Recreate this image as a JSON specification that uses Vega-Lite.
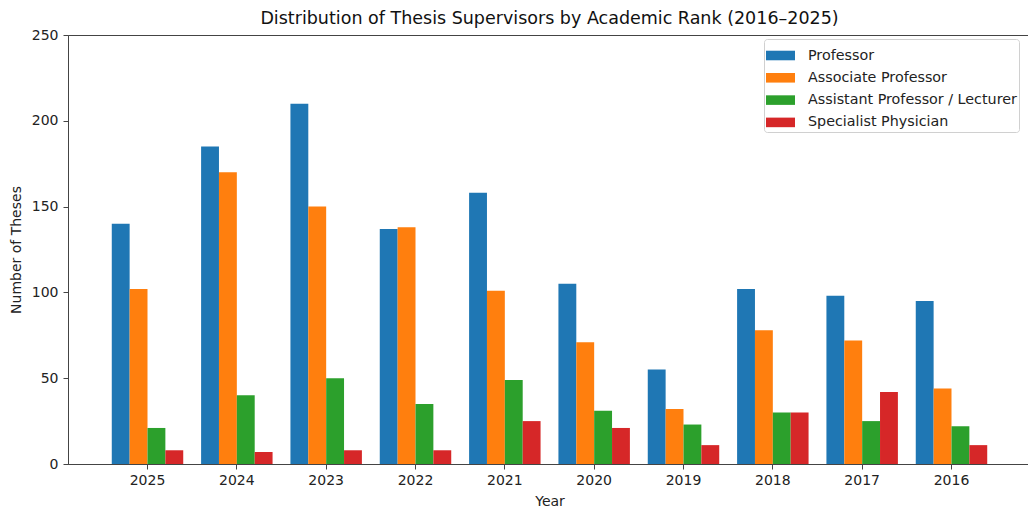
{
  "$schema": "https://vega.github.io/schema/vega-lite/v6.json",
  "autosize": {"type": "none"},
  "padding": {"left": 68, "top": 35, "right": 0, "bottom": 48},
  "width": 963,
  "height": 429,
  "title": {
    "text": "Distribution of Thesis Supervisors by Academic Rank (2016–2025)",
    "font": "DejaVu Sans",
    "fontSize": 17.5,
    "fontWeight": "normal",
    "color": "#111",
    "anchor": "middle",
    "offset": 1
  },
  "config": {
    "font": "DejaVu Sans",
    "view": {"stroke": "#444", "strokeWidth": 1}
  },
  "data": {
    "values": [
      {"year": "2025", "rank": "Professor", "count": 140},
      {"year": "2025", "rank": "Associate Professor", "count": 102},
      {"year": "2025", "rank": "Assistant Professor / Lecturer", "count": 21},
      {"year": "2025", "rank": "Specialist Physician", "count": 8},
      {"year": "2024", "rank": "Professor", "count": 185},
      {"year": "2024", "rank": "Associate Professor", "count": 170},
      {"year": "2024", "rank": "Assistant Professor / Lecturer", "count": 40},
      {"year": "2024", "rank": "Specialist Physician", "count": 7},
      {"year": "2023", "rank": "Professor", "count": 210},
      {"year": "2023", "rank": "Associate Professor", "count": 150},
      {"year": "2023", "rank": "Assistant Professor / Lecturer", "count": 50},
      {"year": "2023", "rank": "Specialist Physician", "count": 8},
      {"year": "2022", "rank": "Professor", "count": 137},
      {"year": "2022", "rank": "Associate Professor", "count": 138},
      {"year": "2022", "rank": "Assistant Professor / Lecturer", "count": 35},
      {"year": "2022", "rank": "Specialist Physician", "count": 8},
      {"year": "2021", "rank": "Professor", "count": 158},
      {"year": "2021", "rank": "Associate Professor", "count": 101},
      {"year": "2021", "rank": "Assistant Professor / Lecturer", "count": 49},
      {"year": "2021", "rank": "Specialist Physician", "count": 25},
      {"year": "2020", "rank": "Professor", "count": 105},
      {"year": "2020", "rank": "Associate Professor", "count": 71},
      {"year": "2020", "rank": "Assistant Professor / Lecturer", "count": 31},
      {"year": "2020", "rank": "Specialist Physician", "count": 21},
      {"year": "2019", "rank": "Professor", "count": 55},
      {"year": "2019", "rank": "Associate Professor", "count": 32},
      {"year": "2019", "rank": "Assistant Professor / Lecturer", "count": 23},
      {"year": "2019", "rank": "Specialist Physician", "count": 11},
      {"year": "2018", "rank": "Professor", "count": 102},
      {"year": "2018", "rank": "Associate Professor", "count": 78},
      {"year": "2018", "rank": "Assistant Professor / Lecturer", "count": 30},
      {"year": "2018", "rank": "Specialist Physician", "count": 30},
      {"year": "2017", "rank": "Professor", "count": 98},
      {"year": "2017", "rank": "Associate Professor", "count": 72},
      {"year": "2017", "rank": "Assistant Professor / Lecturer", "count": 25},
      {"year": "2017", "rank": "Specialist Physician", "count": 42},
      {"year": "2016", "rank": "Professor", "count": 95},
      {"year": "2016", "rank": "Associate Professor", "count": 44},
      {"year": "2016", "rank": "Assistant Professor / Lecturer", "count": 22},
      {"year": "2016", "rank": "Specialist Physician", "count": 11}
    ]
  },
  "mark": {"type": "bar"},
  "encoding": {
    "x": {
      "field": "year",
      "type": "nominal",
      "sort": ["2025", "2024", "2023", "2022", "2021", "2020", "2019", "2018", "2017", "2016"],
      "scale": {"paddingInner": 0.2, "paddingOuter": 0.49},
      "axis": {
        "title": "Year",
        "labelAngle": 0,
        "labelFontSize": 14,
        "labelColor": "#222",
        "titleFontSize": 14,
        "titleFontWeight": "normal",
        "titleColor": "#222",
        "titlePadding": 7,
        "labelPadding": 4,
        "tickSize": 5,
        "tickColor": "#444",
        "domainColor": "#444",
        "grid": false
      }
    },
    "xOffset": {
      "field": "rank",
      "type": "nominal",
      "sort": ["Professor", "Associate Professor", "Assistant Professor / Lecturer", "Specialist Physician"],
      "scale": {"paddingInner": 0, "paddingOuter": 0}
    },
    "y": {
      "field": "count",
      "type": "quantitative",
      "scale": {"domain": [0, 250], "nice": false},
      "axis": {
        "title": "Number of Theses",
        "values": [0, 50, 100, 150, 200, 250],
        "labelFontSize": 14,
        "labelColor": "#222",
        "titleFontSize": 14,
        "titleFontWeight": "normal",
        "titleColor": "#222",
        "titlePadding": 8,
        "labelPadding": 5,
        "tickSize": 5,
        "tickColor": "#444",
        "domainColor": "#444",
        "grid": false
      }
    },
    "color": {
      "field": "rank",
      "type": "nominal",
      "sort": ["Professor", "Associate Professor", "Assistant Professor / Lecturer", "Specialist Physician"],
      "scale": {
        "domain": ["Professor", "Associate Professor", "Assistant Professor / Lecturer", "Specialist Physician"],
        "range": ["#1f77b4", "#ff7f0e", "#2ca02c", "#d62728"]
      },
      "legend": {
        "title": null,
        "orient": "none",
        "legendX": 696,
        "legendY": 4,
        "padding": 2,
        "strokeColor": "#d0d0d0",
        "fillColor": "white",
        "cornerRadius": 3,
        "labelFontSize": 14.3,
        "labelColor": "#222",
        "labelOffset": 13,
        "labelLimit": 400,
        "symbolType": "M-1,-0.33H1V0.33H-1Z",
        "symbolSize": 841,
        "symbolStrokeWidth": 0,
        "symbolOpacity": 1,
        "rowPadding": 0.3
      }
    }
  }
}
